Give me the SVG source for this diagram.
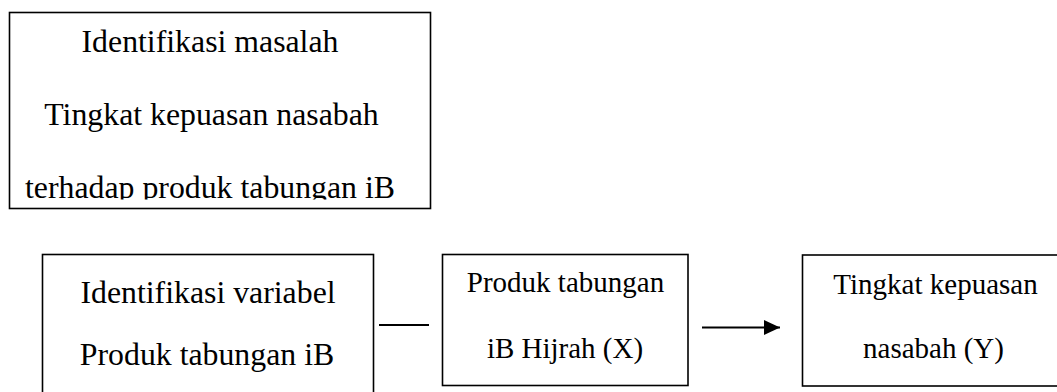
<svg xmlns="http://www.w3.org/2000/svg" width="1057" height="392" viewBox="0 0 1057 392">
<style>
.box{fill:#fff;stroke:#000;stroke-width:1.6}
.t{font-family:"Liberation Serif","Times New Roman",serif;fill:#000;text-anchor:middle}
.big{font-size:31.8px}
.sm{font-size:29px}
.ln{stroke:#000;stroke-width:2;fill:none}
</style>
<defs>
<clipPath id="clip1"><rect x="9" y="12" width="422" height="187.5"/></clipPath>
<marker id="ah" markerWidth="16" markerHeight="16" refX="16" refY="8" orient="auto" markerUnits="userSpaceOnUse"><path d="M0,0.5 L16,8 L0,15.5 Z" fill="#000"/></marker>
</defs>
<rect width="1057" height="392" fill="#fff"/>
<g id="masalah">
<rect class="box" x="9.5" y="12.5" width="421" height="196"/>
<g clip-path="url(#clip1)">
<text class="t big" x="210" y="52">Identifikasi masalah</text>
<text class="t big" x="211.5" y="125">Tingkat kepuasan nasabah</text>
<text class="t big" x="210" y="198">terhadap produk tabungan iB</text>
</g>
</g>
<g id="variabel">
<rect class="box" x="42.5" y="254.5" width="331" height="150"/>
<text class="t big" x="208" y="303">Identifikasi variabel</text>
<text class="t big" x="207" y="365">Produk tabungan iB</text>
</g>
<g id="x">
<rect class="box" x="442.5" y="254.5" width="245.5" height="131"/>
<text class="t sm" x="565.5" y="291.5">Produk tabungan</text>
<text class="t sm" x="565" y="358">iB Hijrah (X)</text>
</g>
<g id="y">
<rect class="box" x="802.5" y="255" width="266" height="131"/>
<text class="t sm" x="935.5" y="294">Tingkat kepuasan</text>
<text class="t sm" x="933.5" y="358">nasabah (Y)</text>
</g>
<g id="connectors">
<line class="ln" x1="379" y1="325" x2="429" y2="325"/>
<line class="ln" x1="702" y1="327.5" x2="780" y2="327.5" marker-end="url(#ah)"/>
</g>
</svg>
